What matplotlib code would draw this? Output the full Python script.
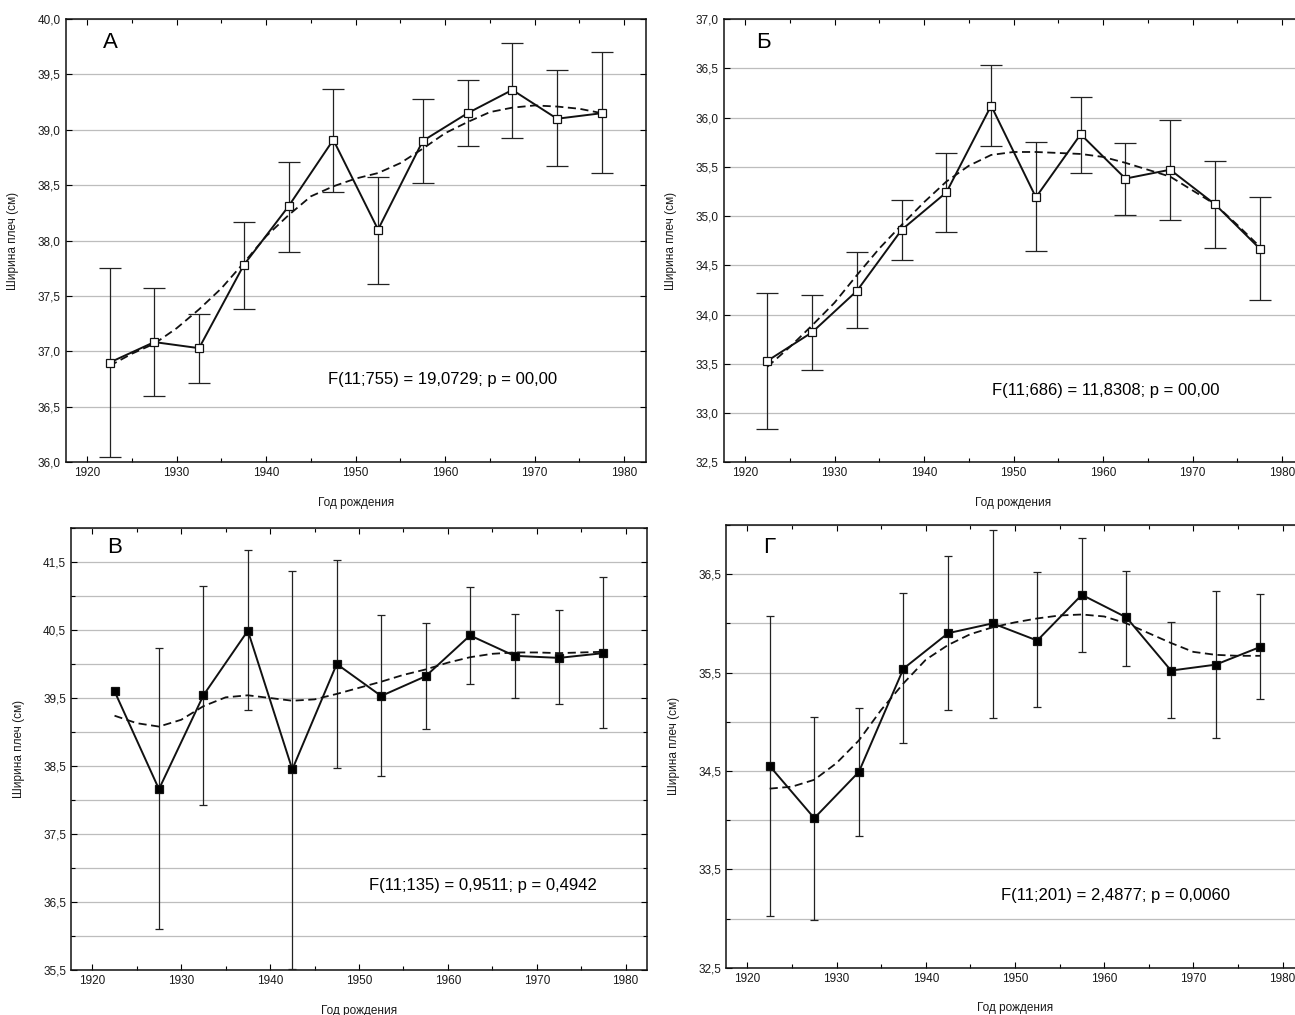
import matplotlib
matplotlib.use('Agg')
import matplotlib.pyplot as plt
from matplotlib.ticker import FuncFormatter, MultipleLocator

plt.rcParams['font.family'] = ['Liberation Sans', 'DejaVu Sans']

years = [1922.5, 1927.5, 1932.5, 1937.5, 1942.5, 1947.5,
         1952.5, 1957.5, 1962.5, 1967.5, 1972.5, 1977.5]
fit_years = [1922.5, 1925, 1927.5, 1930, 1932.5, 1935, 1937.5, 1940, 1942.5,
             1945, 1947.5, 1950, 1952.5, 1955, 1957.5, 1960, 1962.5, 1965,
             1967.5, 1970, 1972.5, 1975, 1977.5]

# panel А
a_mean = [36.90, 37.085, 37.03, 37.78, 38.31, 38.91, 38.10, 38.90, 39.15, 39.36, 39.10, 39.15]
a_low = [36.05, 36.60, 36.72, 37.38, 37.90, 38.44, 37.61, 38.52, 38.85, 38.93, 38.67, 38.61]
a_high = [37.75, 37.57, 37.34, 38.17, 38.71, 39.37, 38.57, 39.28, 39.45, 39.78, 39.54, 39.70]
a_fit = [36.87, 36.98, 37.07, 37.21, 37.38, 37.57, 37.80, 38.04, 38.23, 38.40, 38.49, 38.56,
         38.61, 38.70, 38.83, 38.97, 39.07, 39.16, 39.20, 39.22, 39.21, 39.19, 39.15]

# panel Б
b_mean = [33.53, 33.82, 34.24, 34.86, 35.24, 36.12, 35.19, 35.83, 35.38, 35.47, 35.12, 34.67]
b_low = [32.84, 33.44, 33.86, 34.55, 34.84, 35.71, 34.65, 35.44, 35.01, 34.96, 34.68, 34.15]
b_high = [34.22, 34.20, 34.63, 35.16, 35.64, 36.53, 35.75, 36.21, 35.74, 35.97, 35.56, 35.19]
b_fit = [33.47, 33.67, 33.89, 34.12, 34.40, 34.67, 34.91, 35.14, 35.35, 35.51, 35.62, 35.65,
         35.65, 35.64, 35.63, 35.60, 35.54, 35.47, 35.40, 35.26, 35.12, 34.91, 34.69]

# panel В (first group has no error bar)
v_mean = [39.60, 38.16, 39.54, 40.49, 38.45, 40.00, 39.53, 39.82, 40.42, 40.12, 40.09, 40.16]
v_low = [39.60, 36.10, 37.92, 39.32, 35.52, 38.47, 38.36, 39.04, 39.71, 39.50, 39.41, 39.06]
v_high = [39.60, 40.24, 41.15, 41.68, 41.37, 41.53, 40.72, 40.61, 41.13, 40.73, 40.80, 41.28]
v_fit = [39.24, 39.13, 39.08, 39.18, 39.38, 39.51, 39.54, 39.50, 39.46, 39.48, 39.56, 39.65,
         39.74, 39.84, 39.92, 40.02, 40.10, 40.15, 40.17, 40.17, 40.16, 40.17, 40.18]

# panel Г
g_mean = [34.55, 34.02, 34.49, 35.54, 35.90, 36.00, 35.825, 36.29, 36.06, 35.52, 35.58, 35.76]
g_low = [33.03, 32.98, 33.84, 34.78, 35.12, 35.04, 35.15, 35.71, 35.57, 35.04, 34.83, 35.23]
g_high = [36.07, 35.05, 35.14, 36.31, 36.68, 36.95, 36.52, 36.87, 36.53, 36.01, 36.33, 36.30]
g_fit = [34.32, 34.34, 34.41, 34.58, 34.81, 35.12, 35.39, 35.63, 35.78, 35.89, 35.96, 36.01,
         36.05, 36.08, 36.09, 36.07, 36.00, 35.90, 35.80, 35.71, 35.68, 35.67, 35.67]

panels = [
    dict(pos=[0.0507, 0.5445, 0.4479, 0.4368], mean=a_mean, low=a_low, high=a_high, fit=a_fit,
         ylim=(36.0, 40.0), step=0.5, offset=0.0, letter='А', letter_xy=(0.064, 0.946),
         stat='F(11;755) = 19,0729; p = 00,00', stat_xy=(0.452, 0.186),
         face='white', cap=8.0),
    dict(pos=[0.5587, 0.5445, 0.4479, 0.4368], mean=b_mean, low=b_low, high=b_high, fit=b_fit,
         ylim=(32.5, 37.0), step=0.5, offset=0.0, letter='Б', letter_xy=(0.057, 0.946),
         stat='F(11;686) = 11,8308; p = 00,00', stat_xy=(0.463, 0.163),
         face='white', cap=8.0),
    dict(pos=[0.0548, 0.0443, 0.4448, 0.4355], mean=v_mean, low=v_low, high=v_high, fit=v_fit,
         ylim=(35.5, 42.0), step=1.0, offset=0.5, letter='В', letter_xy=(0.0625, 0.957),
         stat='F(11;135) = 0,9511; p = 0,4942', stat_xy=(0.517, 0.192),
         face='black', cap=3.0),
    dict(pos=[0.5606, 0.0466, 0.4463, 0.4362], mean=g_mean, low=g_low, high=g_high, fit=g_fit,
         ylim=(32.5, 37.0), step=1.0, offset=0.5, letter='Г', letter_xy=(0.064, 0.948),
         stat='F(11;201) = 2,4877; p = 0,0060', stat_xy=(0.475, 0.163),
         face='black', cap=3.0),
]

fig = plt.figure(figsize=(12.95, 10.15), dpi=100)

for p in panels:
    ax = fig.add_axes(p['pos'])
    lo, hi = p['ylim']
    ax.set_xlim(1917.6, 1982.4)
    ax.set_ylim(lo, hi)

    err = [[m - l for m, l in zip(p['mean'], p['low'])],
           [h - m for m, h in zip(p['mean'], p['high'])]]
    ax.errorbar(years, p['mean'], yerr=err, fmt='none', ecolor='#222222',
                elinewidth=0.9, capsize=p['cap'], capthick=0.9, zorder=3)
    ax.plot(fit_years, p['fit'], color='#111111', lw=1.3, ls=(0, (4.5, 2.5)), zorder=4)
    ax.plot(years, p['mean'], color='#111111', lw=1.4, marker='s', ms=5.5,
            mfc=p['face'], mec='#111111', mew=0.9, zorder=5)

    ax.xaxis.set_major_locator(MultipleLocator(10))
    ax.xaxis.set_minor_locator(MultipleLocator(5))
    ax.yaxis.set_major_locator(MultipleLocator(p['step'], offset=p['offset']))
    ax.yaxis.set_minor_locator(MultipleLocator(0.5))
    ax.yaxis.set_major_formatter(FuncFormatter(lambda v, _: f'{v:.1f}'.replace('.', ',')))
    ax.grid(axis='y', which='both', color='#bdbdbd', lw=0.9)
    ax.set_axisbelow(True)
    ax.tick_params(which='both', direction='in', top=True, right=True,
                   labelsize=8.5, labelcolor='#1a1a1a')
    ax.tick_params(which='major', length=4, width=0.8)
    ax.tick_params(which='minor', length=3, width=0.8)
    for s in ax.spines.values():
        s.set_linewidth(1.1)
        s.set_color('#111111')

    ax.set_xlabel('Год рождения', fontsize=8.5, color='#1a1a1a')
    ax.set_ylabel('Ширина плеч (см)', fontsize=8.5, color='#1a1a1a')
    ax.xaxis.set_label_coords(0.5, -0.078)
    ax.yaxis.set_label_coords(-0.08, 0.5)
    ax.text(*p['letter_xy'], p['letter'], transform=ax.transAxes, fontsize=16,
            ha='left', va='center')
    ax.text(*p['stat_xy'], p['stat'], transform=ax.transAxes, fontsize=12,
            ha='left', va='center')

fig.savefig('out.png', dpi=100)
